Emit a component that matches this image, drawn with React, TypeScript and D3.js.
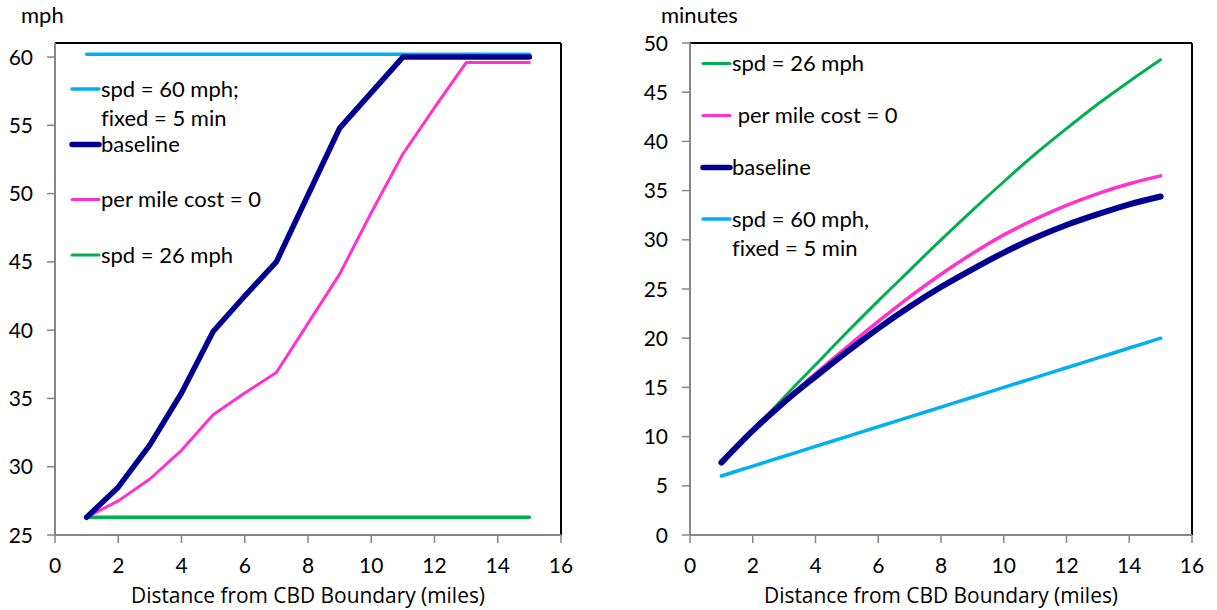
import React from "react";
import * as d3 from "d3";

const distance = [1, 2, 3, 4, 5, 6, 7, 8, 9, 10, 11, 12, 13, 14, 15];

// Left chart: speed (mph)
const speedSpd60 = [60.2, 60.2, 60.2, 60.2, 60.2, 60.2, 60.2, 60.2, 60.2, 60.2, 60.2, 60.2, 60.2, 60.2, 60.2];
const speedBaseline = [26.3, 28.5, 31.6, 35.4, 39.9, 42.5, 45.0, 49.9, 54.8, 57.4, 60.0, 60.0, 60.0, 60.0, 60.0];
const speedPerMile = [26.3, 27.5, 29.1, 31.2, 33.8, 35.4, 36.9, 40.5, 44.1, 48.6, 52.9, 56.3, 59.6, 59.6, 59.6];
const speedSpd26 = [26.3, 26.3, 26.3, 26.3, 26.3, 26.3, 26.3, 26.3, 26.3, 26.3, 26.3, 26.3, 26.3, 26.3, 26.3];

// Right chart: travel time (minutes)
const timeSpd26 = [7.35, 10.6, 14.0, 17.3, 20.6, 23.8, 26.9, 30.0, 33.0, 35.9, 38.7, 41.3, 43.8, 46.1, 48.3];
const timePerMile = [7.35, 10.6, 13.6, 16.4, 19.1, 21.7, 24.2, 26.5, 28.6, 30.5, 32.1, 33.5, 34.7, 35.7, 36.5];
const timeBaseline = [7.35, 10.6, 13.5, 16.1, 18.6, 21.0, 23.2, 25.2, 27.0, 28.7, 30.2, 31.5, 32.6, 33.6, 34.4];
const timeSpd60 = [6, 7, 8, 9, 10, 11, 12, 13, 14, 15, 16, 17, 18, 19, 20];

const xTicks = [0, 2, 4, 6, 8, 10, 12, 14, 16];
const leftYTicks = [25, 30, 35, 40, 45, 50, 55, 60];
const rightYTicks = [0, 5, 10, 15, 20, 25, 30, 35, 40, 45, 50];

const xTitle = "Distance from CBD Boundary (miles)";
const leftYTitle = "mph";
const rightYTitle = "minutes";

const leftLegend = [
  { lines: ["spd = 60 mph;", "fixed = 5 min"], color: "#00B0F0", width: 3.5 },
  { lines: ["baseline"], color: "#000090", width: 5.5 },
  { lines: ["per mile cost = 0"], color: "#FF33CC", width: 3 },
  { lines: ["spd = 26 mph"], color: "#00B050", width: 3 },
];
const rightLegend = [
  { lines: ["spd = 26 mph"], color: "#00B050", width: 3 },
  { lines: [" per mile cost = 0"], color: "#FF33CC", width: 3 },
  { lines: ["baseline"], color: "#000090", width: 5.5 },
  { lines: ["spd = 60 mph,", "fixed = 5 min"], color: "#00B0F0", width: 3.5 },
];

const FONT = "Lato, 'Noto Sans', sans-serif";
const TITLE_FONT = "'Open Sans', Lato, sans-serif";
const FS = 21;
const AXIS_GRAY = "#868686";

type Series = { values: number[]; color: string; width: number };

function Chart(props: {
  x0: number; x1: number; y0: number; y1: number;
  yDomain: [number, number]; yTicks: number[]; yTitle: string; yTitleX: number;
  series: Series[]; curve: any;
  legend: { lines: string[]; color: string; width: number }[];
  legendYs: number[]; legendX: number; legendTextX: number;
}) {
  const { x0, x1, y0, y1, yDomain, yTicks, yTitle, yTitleX, series, curve, legend, legendYs, legendX, legendTextX } = props;
  const x = d3.scaleLinear().domain([0, 16]).range([x0, x1]);
  const y = d3.scaleLinear().domain(yDomain).range([y1, y0]);
  const line = d3
    .line<number>()
    .x((_, i) => x(distance[i]))
    .y((v) => y(v))
    .curve(curve);
  return (
    <g fontFamily={FONT} fontSize={FS} fill="#000" style={{ fontVariantLigatures: "none" }}>
      <line x1={x0} x2={x1} y1={y0} y2={y0} stroke="#000" strokeWidth={2} />
      <line x1={x1} x2={x1} y1={y0} y2={y1} stroke="#000" strokeWidth={2} />
      <line x1={x0} x2={x0} y1={y0} y2={y1} stroke={AXIS_GRAY} strokeWidth={2} />
      <line x1={x0} x2={x1} y1={y1} y2={y1} stroke={AXIS_GRAY} strokeWidth={2} />
      {yTicks.map((t) => (
        <g key={"y" + t}>
          <line x1={x0 - 8} x2={x0} y1={y(t)} y2={y(t)} stroke={AXIS_GRAY} strokeWidth={1.5} />
          <text x={x0 - 22} y={y(t)} dy="0.36em" textAnchor="end">{t}</text>
        </g>
      ))}
      {xTicks.map((t) => (
        <g key={"x" + t}>
          <line x1={x(t)} x2={x(t)} y1={y1} y2={y1 + 8} stroke={AXIS_GRAY} strokeWidth={1.5} />
          <text x={x(t)} y={565} dy="0.36em" textAnchor="middle">{t}</text>
        </g>
      ))}
      <text x={(x0 + x1) / 2} y={595} dy="0.36em" textAnchor="middle" fontFamily={TITLE_FONT}
        fontSize={21} textLength={354} lengthAdjust="spacingAndGlyphs">{xTitle}</text>
      <text x={yTitleX} y={15} dy="0.36em" textAnchor="start" fontSize={22}>{yTitle}</text>
      {series.map((s, i) => (
        <path key={i} d={line(s.values) || ""} fill="none" stroke={s.color} strokeWidth={s.width}
          strokeLinecap="round" strokeLinejoin="round" />
      ))}
      {legend.map((l, i) => (
        <g key={"l" + i}>
          <line x1={legendX} x2={legendTextX - 2} y1={legendYs[i]} y2={legendYs[i]} stroke={l.color}
            strokeWidth={l.width} strokeLinecap="round" />
          {l.lines.map((t, j) => (
            <text key={j} x={legendTextX} y={legendYs[i] + j * 29.5} dy="0.36em" fontSize={22}
              xmlSpace="preserve">{t}</text>
          ))}
        </g>
      ))}
    </g>
  );
}

export default function App() {
  return (
    <svg width={1217} height={610} style={{ position: "absolute", left: 0, top: 0, background: "#fff" }}>
      <rect width={1217} height={610} fill="#fff" />
      <Chart
        x0={55} x1={561} y0={43} y1={535}
        yDomain={[25, 61.03]} yTicks={leftYTicks} yTitle={leftYTitle} yTitleX={21}
        series={[
          { values: speedSpd60, color: "#00B0F0", width: 3.5 },
          { values: speedSpd26, color: "#00B050", width: 3.5 },
          { values: speedPerMile, color: "#FF33CC", width: 3 },
          { values: speedBaseline, color: "#000090", width: 5.5 },
        ]}
        curve={d3.curveLinear}
        legend={leftLegend} legendYs={[89, 144.5, 199.5, 255]} legendX={72} legendTextX={101}
      />
      <Chart
        x0={690} x1={1192} y0={43} y1={535}
        yDomain={[0, 50]} yTicks={rightYTicks} yTitle={rightYTitle} yTitleX={661}
        series={[
          { values: timeSpd60, color: "#00B0F0", width: 3.5 },
          { values: timeSpd26, color: "#00B050", width: 3 },
          { values: timePerMile, color: "#FF33CC", width: 3.5 },
          { values: timeBaseline, color: "#000090", width: 6 },
        ]}
        curve={d3.curveMonotoneX}
        legend={rightLegend} legendYs={[63.5, 115.5, 167.5, 219]} legendX={703} legendTextX={732}
      />
    </svg>
  );
}
